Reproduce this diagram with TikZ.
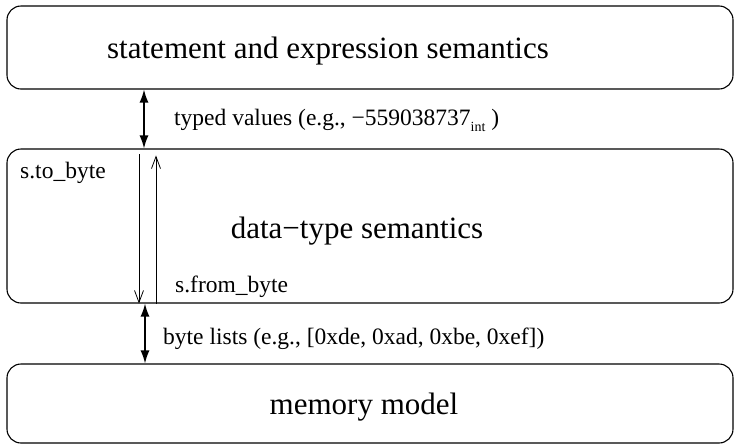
\documentclass[tikz,border=0pt]{standalone}
\usepackage{fontspec}
\setmainfont{Liberation Serif}
\usetikzlibrary{arrows.meta,positioning,calc}

\begin{document}
\begin{tikzpicture}[x=1pt,y=-1pt,
	layer/.style={draw,line width=1.1pt,rounded corners=14pt,minimum width=726pt,inner sep=0pt},
	big/.style={font=\fontsize{31}{36}\selectfont,inner sep=0pt},
	small/.style={font=\fontsize{23.5}{28}\selectfont,inner sep=0pt},
	iface/.style={{Latex[length=13pt,width=9pt]}-{Latex[length=13pt,width=9pt]},line width=1.4pt},
	conv/.style={-{Straight Barb[length=12pt,width=9pt]},line width=0.8pt}]

	\useasboundingbox (0,0) rectangle (735,445);

	% the three layers
	\node[layer,minimum height=83pt] (stmt) at (370,47.5) {};
	\node[layer,minimum height=154pt] (dtype) at (370,226) {};
	\node[layer,minimum height=79pt] (mem) at (370,403.5) {};

	\node[big,anchor=base] (stmtname) at (328,58) {statement and expression semantics};
	\node[big,anchor=base] (dtypename) at (357,238) {data−type semantics};
	\node[big,anchor=base] (memname) at (364,414) {memory model};

	% interfaces between the layers
	\coordinate (upx) at (144,0);
	\coordinate (lowx) at (145,0);
	\draw[iface] (stmt.south -| upx) -- (dtype.north -| upx);
	\draw[iface] (dtype.south -| lowx) -- (mem.north -| lowx);
	\node[small,anchor=base west] (typed) at (174,125)
		{typed values (e.g., −559038737\raisebox{-6pt}{\fontsize{14}{14}\selectfont int} )};
	\node[small,anchor=base west] (bytes) at (163,344)
		{byte lists (e.g., [0xde, 0xad, 0xbe, 0xef])};

	% conversions inside the data-type layer
	\coordinate (tox) at (139,0);
	\coordinate (fromx) at (156,0);
	\draw[conv] ($(dtype.north -| tox)+(0,6)$) -- (dtype.south -| tox);
	\draw[conv] (dtype.south -| fromx) -- ($(dtype.north -| fromx)+(0,7)$);
	\node[small,anchor=base west] (tobyte) at (20,178) {s.to\_byte};
	\node[small,anchor=base west] (frombyte) at (175,292) {s.from\_byte};
\end{tikzpicture}
\end{document}
